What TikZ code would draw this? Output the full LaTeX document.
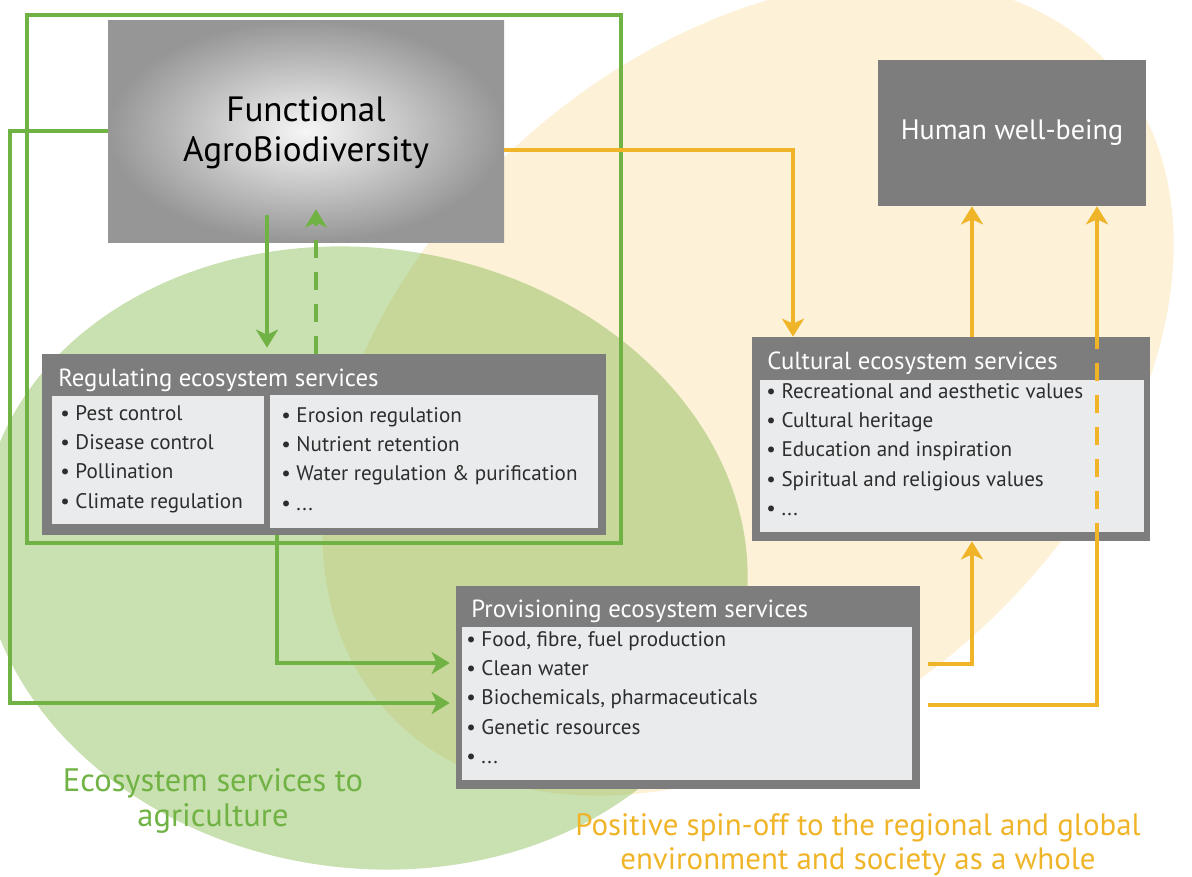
\documentclass[tikz,border=0pt]{standalone}
\usepackage{fontspec}
\setmainfont{PT Sans}
\usetikzlibrary{arrows.meta,calc,fit}

\definecolor{fabgreen}{RGB}{112,178,68}
\definecolor{spinyellow}{RGB}{240,180,40}
\definecolor{boxgray}{RGB}{125,125,125}
\definecolor{panelgray}{RGB}{234,235,237}
\definecolor{textgray}{RGB}{45,45,45}
\definecolor{creamfill}{RGB}{253,241,216}
\definecolor{greenfill}{RGB}{120,178,60}
\definecolor{fablight}{RGB}{246,246,246}
\definecolor{fabdark}{RGB}{150,150,150}

\begin{document}
\begin{tikzpicture}[x=0.02cm,y=-0.02cm,
	gline/.style={line width=0.08cm, fabgreen},
	yline/.style={line width=0.08cm, spinyellow},
	tip/.style={-{Stealth[length=0.36cm,width=0.44cm,inset=0.1cm]}},
	outerbox/.style={fill=boxgray, inner sep=0},
	panel/.style={fill=panelgray, inner sep=0},
	boxtitle/.style={anchor=base west, text=white, inner sep=0, font=\fontsize{14.1}{16}\selectfont},
	itemlist/.style={anchor=north west, align=left, text=textgray, inner sep=0, font=\fontsize{12}{16.7}\selectfont}]
	
	\useasboundingbox (0,0) rectangle (1192,876);
	
	%background areas
	\fill[creamfill, rotate around={41.5:(748,388)}] (748,388) ellipse [x radius=9.7cm, y radius=6.7cm];
	\fill[greenfill, opacity=0.4, rotate around={-8:(364,558)}] (364,558) ellipse [x radius=7.7cm, y radius=6.2cm];
	
	%frame
	\draw[line width=0.09cm, fabgreen] (27,15) rectangle (621,543);
	
	%boxes
	\node[fit={(108,20) (504,242)}, inner sep=0, shade, inner color=fablight, outer color=fabdark] (fab) {};
	\node[align=center, font=\fontsize{20}{23}\selectfont] (fabtext) at ($(fab.center)+(0,2)$) {Functional\\AgroBiodiversity};
	\node[fit={(878,60) (1146,206)}, outerbox] (hwb) {};
	\node[text=white, font=\fontsize{16}{19}\selectfont] (hwbtext) at (hwb.center) {Human well-being};
	
	\node[fit={(42,354) (606,535)}, outerbox] (reg) {};
	\node[fit={(52,396) (264,524)}, panel] (regA) {};
	\node[fit={(270,395) (598,528)}, panel] (regB) {};
	\node[boxtitle] (regtitle) at (58,386) {Regulating ecosystem services};
	\node[itemlist] (regitemsA) at (60,405) {\textbullet\ Pest control\\\textbullet\ Disease control\\\textbullet\ Pollination\\\textbullet\ Climate regulation};
	\node[itemlist] (regitemsB) at (281,407) {\textbullet\ Erosion regulation\\\textbullet\ Nutrient retention\\\textbullet\ Water regulation \& purification\\\textbullet\ ...};
	
	\node[fit={(752,337) (1150,541)}, outerbox] (cult) {};
	\node[fit={(760,380) (1144,532)}, panel] (cultA) {};
	\node[boxtitle] (culttitle) at (767,369) {Cultural ecosystem services};
	\node[itemlist] (cultitems) at (766,383) {\textbullet\ Recreational and aesthetic values\\\textbullet\ Cultural heritage\\\textbullet\ Education and inspiration\\\textbullet\ Spiritual and religious values\\\textbullet\ ...};
	
	\node[fit={(456,586) (920,789)}, outerbox] (prov) {};
	\node[fit={(462,627) (912,780)}, panel] (provA) {};
	\node[boxtitle] (provtitle) at (471,617) {Provisioning ecosystem services};
	\node[itemlist] (provitems) at (466,631) {\textbullet\ Food, fibre, fuel production\\\textbullet\ Clean water\\\textbullet\ Biochemicals, pharmaceuticals\\\textbullet\ Genetic resources\\\textbullet\ ...};
	
	%green connectors
	\draw[gline, tip, shorten >=0.12cm] ($(fab.south)+(-39,-27)$) -- ($(reg.north)+(-57,0)$);
	\draw[gline, tip, dash pattern=on 0.36cm off 0.28cm] ($(reg.north)+(-8,0)$) -- ($(fab.south)+(10,-33)$);
	\draw[gline, tip, shorten >=0.12cm] ($(reg.south)+(-47,0)$) |- ($(prov.west)+(0,-24.5)$);
	\draw[gline, tip, shorten >=0.12cm] (fab.west) -- ++(-98,0) |- ($(prov.west)+(0,15.5)$);
	
	%yellow connectors
	\draw[yline, tip] ($(fab.east)+(0,19)$) -| ($(cult.north)+(-158,0)$);
	\draw[yline, tip] ($(cult.north)+(21,0)$) -- ($(hwb.south)+(-40,0)$);
	\draw[yline, tip] ($(prov.east)+(8,-23.5)$) -| ($(cult.south)+(21,0)$);
	\draw[yline] ($(prov.east)+(8,17.5)$) -| ($(cult.south)+(146,0)$);
	\draw[yline, dash pattern=on 0.36cm off 0.28cm] ($(cult.south)+(146,0)$) -- ($(cult.north)+(146,0)$);
	\draw[yline, tip] ($(cult.north)+(146,0)$) -- ($(hwb.south)+(85,0)$);
	
	%labels
	\node[text=fabgreen, align=center, inner sep=0, font=\fontsize{18.5}{20}\selectfont] (agri) at (213,801) {Ecosystem services to\\agriculture};
	\node[text=spinyellow, align=center, inner sep=0, font=\fontsize{17.6}{19.4}\selectfont] (spin) at (858,845) {Positive spin-off to the regional and global\\environment and society as a whole};
\end{tikzpicture}
\end{document}
